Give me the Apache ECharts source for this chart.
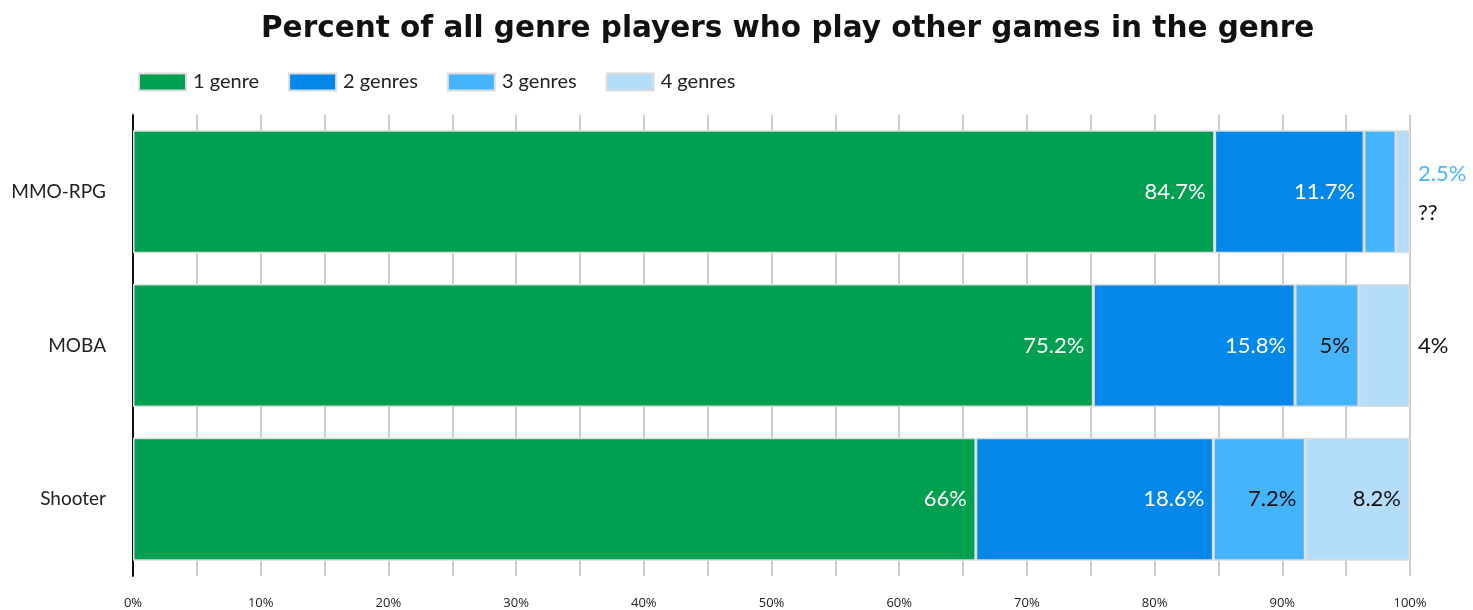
<!DOCTYPE html>
<html>
<head>
<meta charset="utf-8">
<script src="https://cdn.jsdelivr.net/npm/echarts@6/dist/echarts.min.js"></script>
<style>
  html, body { margin: 0; padding: 0; background: #fff; }
  #chart { width: 1473px; height: 610px; }
</style>
</head>
<body>
<div id="chart"></div>
<script>
// Genres, top to bottom
const genres = ['MMO-RPG', 'MOBA', 'Shooter'];
const seriesNames = ['1 genre', '2 genres', '3 genres', '4 genres'];

// Share of players (%) by number of genres played
const oneGenre = [84.7, 75.2, 66];
const twoGenres = [11.7, 15.8, 18.6];
const threeGenres = [2.5, 5, 7.2];
const fourGenres = [1.1, 4, 8.2];

const colors = ['#01a050', '#0388ea', '#46b4fa', '#b3ddfb'];
const labelColors = ['#ffffff', '#ffffff', '#111111', '#111111'];

const labelFont = 'Lato, "Open Sans", sans-serif';

function baseLabel(i) {
  return {
    show: true,
    position: 'insideRight',
    distance: 9,
    color: labelColors[i],
    fontFamily: labelFont,
    fontSize: 22,
    padding: [4, 0, 0, 0],
    formatter: p => p.value + '%'
  };
}

function buildData(values, i) {
  return values.map((v, k) => {
    const item = { value: v };
    if (i === 2 && k === 0) {
      // the small 3-genre MMO-RPG slice is labelled outside the bar
      item.label = { show: false };
    }
    if (i === 3 && k === 0) {
      item.label = {
        show: true,
        position: 'right',
        distance: 8,
        formatter: '{blue|' + threeGenres[0] + '%}\n{dark|??}',
        rich: {
          blue: { color: '#4cb5f5', fontSize: 22, fontFamily: labelFont, lineHeight: 39 },
          dark: { color: '#111111', fontSize: 22, fontFamily: labelFont, lineHeight: 39 }
        }
      };
    }
    if (i === 3 && k === 1) {
      item.label = { position: 'right', distance: 8 };
    }
    return item;
  });
}

const allValues = [oneGenre, twoGenres, threeGenres, fourGenres];

const chart = echarts.init(document.getElementById('chart'));
chart.setOption({
  animation: false,
  backgroundColor: '#ffffff',
  title: {
    text: 'Percent of all genre players who play other games in the genre',
    left: 256,
    top: 9,
    textStyle: {
      fontFamily: '"DejaVu Sans", sans-serif',
      fontWeight: 'bold',
      fontSize: 29.5,
      color: '#111111'
    }
  },
  legend: {
    data: seriesNames,
    left: 133,
    top: 67,
    icon: 'rect',
    itemWidth: 47,
    itemHeight: 17,
    itemGap: 29,
    textStyle: { fontFamily: labelFont, fontSize: 20, color: '#222222', padding: [0, 0, 0, 2] }
  },
  grid: { left: 133, right: 63, top: 115, bottom: 33, containLabel: false },
  xAxis: {
    type: 'value',
    min: 0,
    max: 100,
    interval: 5,
    axisLine: { show: false },
    axisTick: { show: false },
    splitLine: { show: true, lineStyle: { color: '#cccccc', width: 2 } },
    axisLabel: {
      margin: 21,
      fontFamily: '"Open Sans", sans-serif',
      fontSize: 13,
      color: '#222222',
      formatter: v => (v % 10 === 0 ? v + '%' : '')
    }
  },
  yAxis: {
    type: 'category',
    data: genres,
    inverse: true,
    axisLine: { show: true, lineStyle: { color: '#111111', width: 2 } },
    axisTick: { show: false },
    axisLabel: { margin: 27, fontFamily: labelFont, fontSize: 19, color: '#222222' }
  },
  series: allValues.map((vals, i) => ({
    name: seriesNames[i],
    type: 'bar',
    stack: 'total',
    barCategoryGap: '20%',
    itemStyle: { color: colors[i], borderColor: '#dcdcdc', borderWidth: 1.5 },
    label: baseLabel(i),
    data: buildData(vals, i)
  }))
});
</script>
</body>
</html>
